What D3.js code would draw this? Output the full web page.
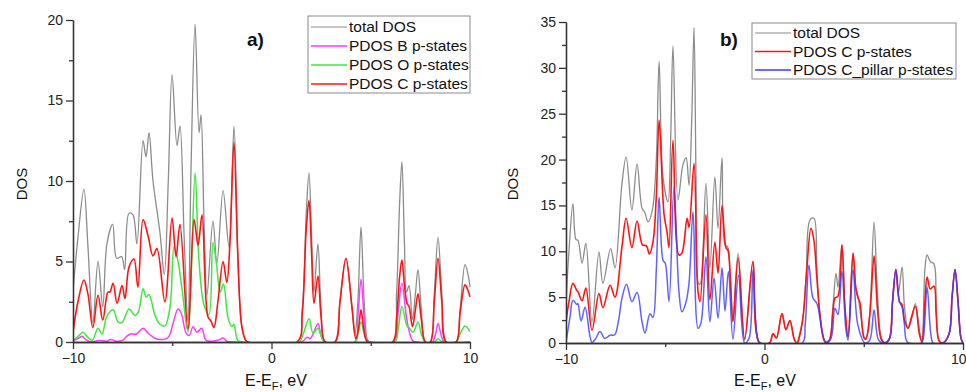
<!DOCTYPE html>
<html>
<head>
<meta charset="utf-8">
<script src="https://cdn.jsdelivr.net/npm/d3@7"></script>
<style>
  html, body { margin: 0; padding: 0; background: #fff; }
  svg { display: block; font-family: "Liberation Sans", Arial, sans-serif; }
  .axis path, .axis line { stroke: #333; stroke-width: 1.3; }
  .axis text { fill: #222; font-size: 14px; font-family: "Liberation Sans", Arial, sans-serif; }
</style>
</head>
<body>
<svg id="chart" width="966" height="392"></svg>
<script>
// ---- data: [E - E_F (eV), DOS] ----
const xTicks = [-10, 0, 10];
const xMinor = [-5, 5];
const yTicksA = [0, 5, 10, 15, 20];
const yTicksB = [0, 5, 10, 15, 20, 25, 30, 35];

const legendA = ['total DOS', 'PDOS B p-states', 'PDOS O p-states', 'PDOS C p-states'];
const legendB = ['total DOS', 'PDOS C p-states', 'PDOS C_pillar p-states'];

const aTotal = [[-10,3.2],[-9.75,6.5],[-9.45,9.5],[-9.25,6.0],[-9.0,1.2],[-8.74,5.0],[-8.5,2.2],[-8.29,6.1],
  [-8.0,7.3],[-7.8,5.2],[-7.55,5.3],[-7.4,4.5],[-7.18,8.0],[-6.98,7.9],[-6.78,6.1],[-6.47,12.5],[-6.32,11.5],
  [-6.17,13.0],[-5.97,10.0],[-5.62,6.8],[-5.4,4.2],[-5.2,10.0],[-5.01,16.6],[-4.76,12.2],[-4.61,13.4],[-4.4,6.5],
  [-4.21,1.25],[-4.05,11.0],[-3.85,19.75],[-3.65,13.0],[-3.55,14.1],[-3.4,7.5],[-3.25,2.9],[-2.95,7.5],[-2.75,4.9],
  [-2.44,9.4],[-2.14,5.9],[-1.89,13.4],[-1.7,5.5],[-1.5,1.0],[-1.3,0.1],[-1.2,0],[1.3,0],[1.55,2.0],[1.75,8.0],
  [1.89,10.5],[2.02,6.5],[2.14,3.1],[2.34,6.1],[2.5,2.0],[2.7,0],[3.2,0],[3.45,2.5],[3.75,5.2],[4.05,2.2],
  [4.2,0.4],[4.35,2.5],[4.51,7.15],[4.67,2.5],[4.85,0.1],[5.0,0],[6.1,0],[6.3,3.0],[6.45,8.5],[6.57,11.2],
  [6.7,6.0],[6.8,3.1],[6.93,3.5],[7.1,1.4],[7.25,3.0],[7.38,4.5],[7.55,2.0],[7.75,0],[8.0,0],[8.2,3.0],
  [8.39,6.5],[8.58,3.0],[8.8,0],[9.3,0],[9.5,2.0],[9.75,4.8],[9.9,4.2],[10,3.4]];

const aB = [[-10,0.05],[-9.7,0.25],[-9.55,0.35],[-9.35,0.15],[-9.1,0],[-8.7,0.1],[-8.3,0.05],[-8.1,0.15],
  [-7.8,0.05],[-7.5,0.1],[-7.3,0.35],[-7.1,0.5],[-6.8,0.5],[-6.47,0.85],[-6.22,0.55],[-5.9,0.25],[-5.62,0.15],
  [-5.2,0.3],[-4.95,1.2],[-4.71,2.05],[-4.55,1.8],[-4.3,0.55],[-4.15,0.4],[-3.95,0.95],[-3.75,0.6],[-3.52,0.85],
  [-3.3,0.1],[-3.0,0.05],[-2.6,0.15],[-2.44,0.25],[-2.25,0.05],[-2.0,0],[1.5,0],[1.8,0.3],[1.95,0.2],[2.1,0.5],
  [2.34,1.15],[2.5,0.4],[2.7,0],[4.2,0],[4.35,1.5],[4.51,3.9],[4.67,1.5],[4.85,0],[6.2,0],[6.35,1.5],
  [6.57,3.65],[6.83,1.3],[7.1,0.1],[7.3,0],[8.1,0],[8.25,0.4],[8.39,1.15],[8.55,0.4],[8.7,0],[10,0]];

const aO = [[-10,0.1],[-9.75,0.35],[-9.5,0.6],[-9.3,0.35],[-9.04,0.1],[-8.74,0.85],[-8.54,0.5],[-8.29,1.6],
  [-7.98,2.0],[-7.73,1.25],[-7.53,1.2],[-7.18,2.05],[-6.88,1.65],[-6.7,1.9],[-6.47,3.3],[-6.32,2.8],[-6.17,2.95],
  [-5.87,1.65],[-5.62,1.1],[-5.37,1.0],[-5.11,2.2],[-4.91,5.9],[-4.71,5.0],[-4.51,3.3],[-4.21,0.6],[-4.05,4.0],
  [-3.85,10.5],[-3.65,5.0],[-3.4,2.3],[-3.15,1.7],[-2.95,6.2],[-2.75,4.6],[-2.59,3.1],[-2.42,3.6],[-2.19,1.5],
  [-1.99,0.95],[-1.9,1.1],[-1.7,0.1],[-1.5,0],[1.4,0],[1.6,0.5],[1.89,1.45],[2.09,0.55],[2.34,0.85],[2.55,0.2],
  [2.7,0],[4.2,0],[4.35,0.5],[4.51,1.25],[4.67,0.5],[4.85,0],[6.2,0],[6.4,1.0],[6.57,2.2],[6.83,1.0],[6.93,0.9],
  [7.13,0.6],[7.38,1.25],[7.55,0.5],[7.75,0],[8.2,0],[8.39,0.2],[8.6,0],[9.3,0],[9.5,0.5],[9.75,1.0],[10,0.65]];

const aC = [[-10,0.6],[-9.75,2.5],[-9.45,3.85],[-9.25,3.0],[-9.0,0.9],[-8.74,2.9],[-8.5,1.35],[-8.24,3.1],
  [-8.14,3.1],[-7.98,3.65],[-7.78,2.4],[-7.53,3.5],[-7.38,2.7],[-7.18,4.65],[-6.93,5.15],[-6.73,3.4],[-6.47,7.6],
  [-6.22,6.6],[-5.97,5.35],[-5.77,5.8],[-5.37,2.5],[-5.01,7.7],[-4.81,5.3],[-4.61,7.3],[-4.21,0.8],[-3.9,7.6],
  [-3.7,6.0],[-3.5,7.9],[-3.2,1.55],[-3.05,1.3],[-2.9,0.9],[-2.7,2.5],[-2.44,5.0],[-2.25,3.7],[-2.1,6.0],
  [-1.89,12.4],[-1.7,5.5],[-1.5,1.0],[-1.3,0.1],[-1.2,0],[1.3,0],[1.55,1.8],[1.75,7.0],[1.89,8.8],[2.02,5.5],
  [2.14,2.4],[2.34,4.1],[2.5,1.5],[2.7,0],[3.2,0],[3.45,2.5],[3.75,5.2],[4.05,2.2],[4.25,0.2],[4.38,0.8],
  [4.51,2.0],[4.65,0.8],[4.85,0],[6.1,0],[6.3,1.5],[6.45,4.0],[6.57,5.1],[6.7,3.5],[6.83,2.4],[6.93,2.2],
  [7.1,0.95],[7.25,2.0],[7.38,3.0],[7.55,1.4],[7.75,0],[8.0,0],[8.2,2.5],[8.39,5.2],[8.58,2.5],[8.8,0],
  [9.3,0],[9.5,1.8],[9.75,3.55],[9.9,3.2],[10,2.8]];

const bTotal = [[-10,4.5],[-9.85,10],[-9.65,15.2],[-9.5,11.3],[-9.4,11.2],[-9.19,8.7],[-9.0,10.9],[-8.69,2.3],
  [-8.34,9.9],[-8.14,6.5],[-7.75,10.3],[-7.53,8.2],[-7.18,17.4],[-6.97,20.3],[-6.68,14.5],[-6.42,19.5],
  [-6.17,14.7],[-6.02,14.2],[-5.87,13.2],[-5.65,14.5],[-5.45,20],[-5.31,30.7],[-5.11,18],[-4.86,15.4],
  [-4.73,22],[-4.61,32.4],[-4.36,15.6],[-4.11,19.4],[-3.95,20.2],[-3.8,17.2],[-3.67,24],[-3.55,34.4],
  [-3.45,18],[-3.35,6.6],[-3.25,6.4],[-2.95,17.4],[-2.75,8.2],[-2.5,18.1],[-2.34,12.5],[-2.14,20.2],
  [-1.99,10.7],[-1.86,10.5],[-1.74,7.7],[-1.59,2.5],[-1.33,9.8],[-1.0,0.3],[-0.58,8.8],[-0.25,0],[0.25,0],
  [0.43,1.05],[0.6,0.55],[0.88,3.2],[1.08,1.45],[1.28,2.45],[1.5,0.4],[1.64,0],[1.75,0.8],[1.94,2.8],
  [2.1,7.5],[2.29,13.4],[2.49,13.6],[2.64,8.0],[2.8,3.0],[3.05,0.2],[3.25,0.3],[3.45,4.0],[3.6,7.6],[3.7,6.1],
  [3.9,10.7],[4.05,4.0],[4.21,0.65],[4.46,9.8],[4.6,6.0],[4.71,5.1],[4.85,3.0],[5.06,0.5],[5.2,1.0],[5.35,5.0],
  [5.52,13.2],[5.7,5.0],[5.9,0.5],[6.1,0],[6.3,0.5],[6.45,4.5],[6.62,8.0],[6.75,5.5],[6.93,8.3],[7.05,4.0],
  [7.23,1.6],[7.4,2.5],[7.6,4.3],[7.8,1.5],[7.93,0.1],[8.08,8.0],[8.19,9.6],[8.35,8.9],[8.54,8.6],[8.65,4.0],
  [8.8,0.3],[9.0,0],[9.3,1.0],[9.45,5.0],[9.6,8.0],[9.75,4.5],[9.9,0.5],[10,0]];

const bC = [[-10,2.3],[-9.85,4.5],[-9.65,6.5],[-9.45,5.7],[-9.4,5.6],[-9.19,4.6],[-9.0,6.0],[-8.69,1.4],
  [-8.34,5.4],[-8.14,3.85],[-7.78,6.3],[-7.53,5.0],[-7.18,10.5],[-6.97,13.6],[-6.68,10.4],[-6.42,13.3],
  [-6.15,10.7],[-5.95,10.6],[-5.8,9.7],[-5.62,11],[-5.45,16],[-5.31,24.3],[-5.06,14],[-4.91,12.1],[-4.81,10.4],
  [-4.61,22.1],[-4.31,9.6],[-4.16,9.8],[-3.9,13.6],[-3.8,12.6],[-3.55,19.6],[-3.35,5.6],[-3.25,4.5],[-2.95,14.0],
  [-2.75,4.7],[-2.5,11.0],[-2.34,7.6],[-2.14,15.0],[-1.94,10.4],[-1.84,10.1],[-1.72,7.0],[-1.59,2.3],
  [-1.33,9.3],[-1.0,0.45],[-0.58,8.9],[-0.25,0],[0.25,0],[0.43,1.0],[0.6,0.55],[0.88,3.2],[1.08,1.45],
  [1.28,2.45],[1.5,0.4],[1.64,0],[1.75,0.6],[1.94,2.8],[2.1,7.0],[2.34,12.5],[2.49,11.2],[2.64,7.0],[2.8,3.0],
  [3.05,0.1],[3.25,0.2],[3.45,3.5],[3.55,4.9],[3.7,5.1],[3.9,10.7],[4.05,4.0],[4.21,0.65],[4.46,9.8],[4.6,6.0],
  [4.71,4.9],[4.81,4.4],[5.0,0.6],[5.1,0.4],[5.3,3.0],[5.52,9.5],[5.7,3.5],[5.9,0.3],[6.1,0],[6.3,0.5],
  [6.45,4.5],[6.62,8.0],[6.8,4.5],[6.93,4.2],[7.05,2.5],[7.23,1.6],[7.4,2.8],[7.6,4.0],[7.8,1.0],[7.93,0.1],
  [8.08,4.5],[8.19,7.2],[8.35,5.9],[8.54,6.2],[8.65,3.0],[8.8,0.2],[9.0,0],[9.3,1.0],[9.45,5.0],[9.6,8.0],
  [9.75,4.5],[9.9,0.5],[10,0]];

const bPillar = [[-10,0.1],[-9.8,2.8],[-9.65,4.65],[-9.45,4.2],[-9.4,4.3],[-9.24,2.4],[-9.04,3.9],[-8.79,0.7],
  [-8.69,0.05],[-8.5,0.5],[-8.29,1.25],[-8.04,0.5],[-7.78,0.85],[-7.55,0.9],[-7.35,2.5],[-7.18,4.9],[-6.95,6.4],
  [-6.68,4.5],[-6.42,5.5],[-6.17,2.3],[-6.02,1.1],[-5.77,3.2],[-5.62,2.8],[-5.45,8.0],[-5.31,15.9],[-5.11,9.0],
  [-5.0,8.7],[-4.81,4.5],[-4.56,17.0],[-4.31,5.6],[-4.16,3.4],[-3.95,4.5],[-3.8,6.6],[-3.6,14.3],[-3.35,1.6],
  [-3.2,2.2],[-2.95,9.4],[-2.75,2.3],[-2.54,7.1],[-2.34,2.7],[-2.14,8.2],[-1.99,3.5],[-1.82,7.8],[-1.59,0.4],
  [-1.31,7.4],[-1.0,0],[-0.78,0.5],[-0.58,8.0],[-0.35,0.5],[-0.2,0],[1.9,0],[2.05,2.0],[2.24,8.5],[2.44,4.9],
  [2.64,4.3],[2.9,1.3],[3.1,0],[3.35,0.5],[3.55,3.8],[3.7,3.1],[3.9,7.8],[4.1,1.5],[4.21,0.3],[4.46,8.0],
  [4.7,2.0],[5.06,0],[5.3,0.3],[5.52,3.6],[5.75,0.3],[6.0,0],[6.3,0.5],[6.45,4.5],[6.62,8.0],[6.8,4.5],
  [6.93,3.9],[7.05,2.0],[7.2,0.1],[7.9,0],[8.0,0.5],[8.19,6.1],[8.38,1.0],[8.5,0],[9.0,0],[9.3,1.0],[9.45,5.0],
  [9.6,8.0],[9.75,4.5],[9.9,0.5],[10,0]];

const GRAY = '#8c8c8c', MAGENTA = '#ff3cff', GREEN = '#3ee83e', RED = '#ff1414', BLUE = '#3a3aff';

const svg = d3.select('#chart');
const defs = svg.append('defs');

function drawPanel(opt) {
  const x = d3.scaleLinear().domain([-10, 10]).range(opt.xRange);
  const y = d3.scaleLinear().domain([0, opt.yMax]).range(opt.yRange);
  const g = svg.append('g');

  // keep the smoothed curves from dipping under the zero line
  defs.append('clipPath').attr('id', 'clip-' + opt.tag[0])
    .append('rect')
      .attr('x', opt.xRange[0]).attr('y', 0)
      .attr('width', opt.xRange[1] - opt.xRange[0] + 1)
      .attr('height', opt.yRange[0] + 0.5);

  const line = d3.line()
    .x(d => x(d[0]))
    .y(d => y(d[1]))
    .curve(d3.curveCatmullRom.alpha(0.5));

  const plot = g.append('g').attr('clip-path', 'url(#clip-' + opt.tag[0] + ')');
  opt.series.forEach(s => {
    plot.append('path')
      .datum(s.data)
      .attr('fill', 'none')
      .attr('stroke', s.color)
      .attr('stroke-width', s.width)
      .attr('stroke-opacity', s.opacity || 1)
      .attr('stroke-linejoin', 'round')
      .attr('d', line);
  });

  // minor ticks
  const yMinor = d3.range(2.5, opt.yMax, 5);
  g.append('g')
    .attr('class', 'axis')
    .attr('transform', 'translate(' + opt.xRange[0] + ',0)')
    .call(d3.axisLeft(y).tickValues(yMinor).tickSize(4).tickSizeOuter(0).tickFormat(''));
  g.append('g')
    .attr('class', 'axis')
    .attr('transform', 'translate(0,' + opt.yRange[0] + ')')
    .call(d3.axisBottom(x).tickValues(xMinor).tickSize(4).tickSizeOuter(0).tickFormat(''));

  // major axes
  g.append('g')
    .attr('class', 'axis')
    .attr('transform', 'translate(' + opt.xRange[0] + ',0)')
    .call(d3.axisLeft(y).tickValues(opt.yTicks).tickSize(7).tickSizeOuter(0).tickPadding(3));
  const xa = g.append('g')
    .attr('class', 'axis')
    .attr('transform', 'translate(0,' + opt.yRange[0] + ')')
    .call(d3.axisBottom(x).tickValues(xTicks).tickSize(7).tickSizeOuter(0).tickPadding(4).tickFormat(d3.format('d')));
  if (opt.lastTickEnd) {
    // the right-most label of panel b sits at the page edge
    xa.selectAll('.tick').filter(d => d === 10).select('text')
      .attr('text-anchor', 'end').attr('x', 966 - opt.xRange[1]);
  }

  // axis titles
  g.append('text')
    .attr('transform', 'translate(' + opt.yTitleX + ',184) rotate(-90)')
    .attr('text-anchor', 'middle')
    .attr('font-size', 15)
    .attr('fill', '#111')
    .text('DOS');

  const xt = g.append('text')
    .attr('x', opt.xTitleX)
    .attr('y', 386)
    .attr('text-anchor', 'middle')
    .attr('font-size', 16)
    .attr('fill', '#111');
  xt.append('tspan').text('E-E');
  xt.append('tspan').attr('font-size', 11).attr('dy', 4).text('F');
  xt.append('tspan').attr('dy', -4).text(', eV');

  // panel tag
  g.append('text')
    .attr('x', opt.tagX)
    .attr('y', 46)
    .attr('font-size', 19)
    .attr('font-weight', 'bold')
    .attr('fill', '#111')
    .text(opt.tag);

  // legend
  const lg = g.append('g').attr('transform', 'translate(' + opt.legend.x + ',' + opt.legend.y + ')');
  lg.append('rect')
    .attr('width', opt.legend.w)
    .attr('height', opt.legend.h)
    .attr('fill', '#fff')
    .attr('stroke', '#8a8a8a')
    .attr('stroke-width', 1);
  opt.legend.labels.forEach((lab, i) => {
    const yy = opt.legend.first + i * opt.legend.step;
    lg.append('line')
      .attr('x1', 3).attr('x2', opt.legend.lineW)
      .attr('y1', yy).attr('y2', yy)
      .attr('stroke', opt.legend.colors[i])
      .attr('stroke-width', i === 0 ? 1.2 : 1.6);
    lg.append('text')
      .attr('x', opt.legend.lineW + 2)
      .attr('y', yy + 5)
      .attr('font-size', 15.5)
      .attr('fill', '#111')
      .text(lab);
  });
}

drawPanel({
  xRange: [73, 470], yRange: [342, 20], yMax: 20, yTicks: yTicksA,
  yTitleX: 27, xTitleX: 276, tag: 'a)', tagX: 247,
  series: [
    { data: aTotal, color: GRAY, width: 1.3 },
    { data: aB, color: MAGENTA, width: 1.5 },
    { data: aO, color: GREEN, width: 1.5 },
    { data: aC, color: RED, width: 1.6 }
  ],
  legend: { x: 308, y: 16, w: 162, h: 77, first: 11, step: 19, lineW: 39,
            labels: legendA, colors: [GRAY, MAGENTA, GREEN, RED] }
});

drawPanel({
  xRange: [566, 963], yRange: [343, 22], yMax: 35, yTicks: yTicksB,
  yTitleX: 518, xTitleX: 765, tag: 'b)', tagX: 720, lastTickEnd: true,
  series: [
    { data: bTotal, color: GRAY, width: 1.3 },
    { data: bC, color: RED, width: 1.6 },
    { data: bPillar, color: BLUE, width: 1.5, opacity: 0.8 }
  ],
  legend: { x: 752, y: 23, w: 204, h: 56, first: 10, step: 18.5, lineW: 39,
            labels: legendB, colors: [GRAY, RED, BLUE] }
});
</script>
</body>
</html>
